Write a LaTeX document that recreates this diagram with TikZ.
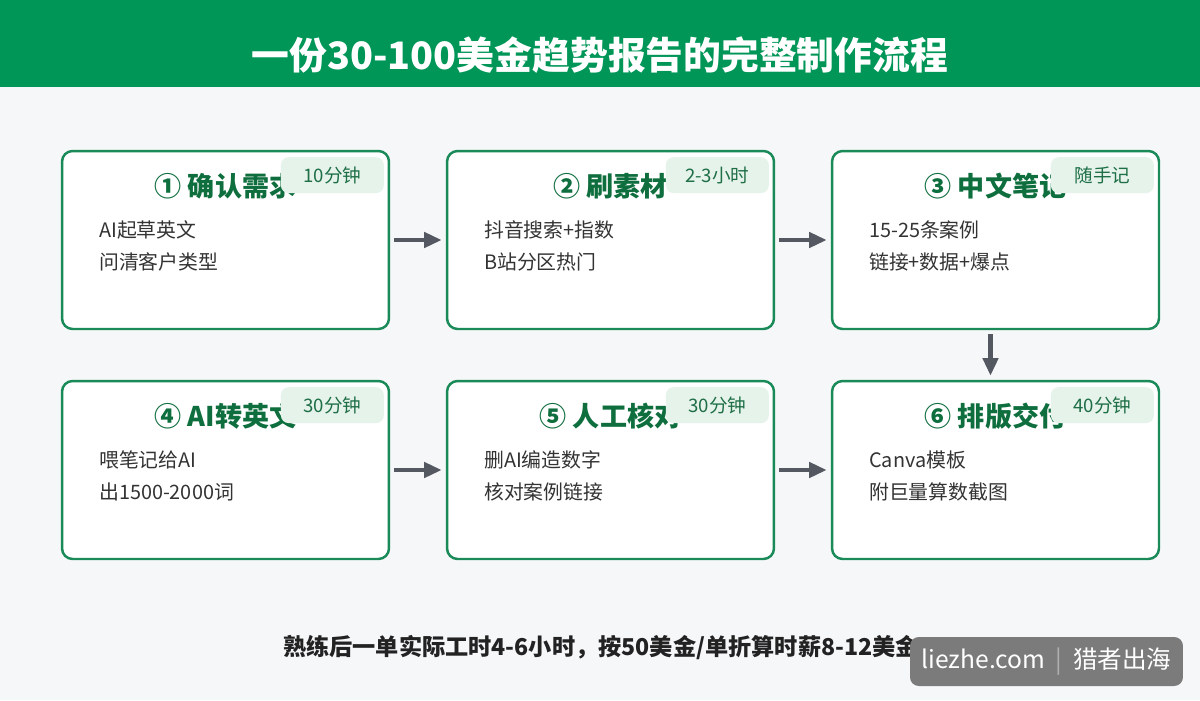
\documentclass[tikz,border=0pt]{standalone}
\usepackage{fontspec}
\setmainfont{Noto Sans CJK SC}
\usepackage{xcolor}
\definecolor{HeadGreen}{RGB}{0,150,88}
\definecolor{BoxGreen}{RGB}{26,138,88}
\definecolor{TitleGreen}{RGB}{14,110,62}
\definecolor{BadgeFill}{RGB}{230,243,235}
\definecolor{BadgeText}{RGB}{30,110,70}
\definecolor{ArrowGray}{RGB}{84,88,97}
\definecolor{PageGray}{RGB}{245,247,249}
\definecolor{BodyText}{RGB}{51,51,51}
\definecolor{FootText}{RGB}{34,34,34}
\definecolor{WmGray}{RGB}{123,123,123}
\definecolor{WmSep}{RGB}{176,176,176}
\usepackage{tikz}
\usetikzlibrary{arrows.meta, positioning, calc}
\tikzset{
  % Step card
  card/.style={
    rectangle, rounded corners=6pt,
    draw=BoxGreen, line width=1.4pt,
    fill=white,
    minimum width=6.54cm, minimum height=3.56cm,
    inner sep=0pt
  },
  % Card heading
  cardtitle/.style={
    font=\fontsize{15.4}{18}\selectfont\bfseries,
    text=TitleGreen, inner sep=0pt
  },
  % Time badge
  badge/.style={
    rectangle, rounded corners=4.5pt,
    fill=BadgeFill,
    minimum width=2.06cm, minimum height=0.72cm,
    font=\fontsize{10.6}{12}\selectfont,
    text=BadgeText, inner sep=0pt
  },
  % Card body
  cardbody/.style={
    align=left, inner sep=0pt,
    font=\fontsize{11.3}{18.1}\selectfont,
    text=BodyText
  },
  % Arrows
  flowarr/.style={-{Triangle[length=10pt,width=8.5pt]}, line width=2.7pt,
    ArrowGray, shorten <=2.3pt, shorten >=2.3pt},
}
\begin{document}
\begin{tikzpicture}[x=0.02cm, y=-0.02cm]
  %% Page and header band
  \useasboundingbox (0,0) rectangle (1200,700);
  \fill[PageGray] (0,0) rectangle (1200,700);
  \fill[HeadGreen] (0,0) rectangle (1200,87);
  \node[font=\fontsize{21.5}{24}\selectfont\bfseries, text=white] (head) at (600,55)
    {一份30-100美金趋势报告的完整制作流程};

  %% Six step cards
  \foreach \i/\cx/\cy/\ttl/\tm/\la/\lb in {
    1/225.5/240/{① 确认需求}/{10分钟}/{AI起草英文}/{问清客户类型},
    2/610.5/240/{② 刷素材}/{2-3小时}/{抖音搜索+指数}/{B站分区热门},
    3/995.5/240/{③ 中文笔记}/{随手记}/{15-25条案例}/{链接+数据+爆点},
    4/225.5/470/{④ AI转英文}/{30分钟}/{喂笔记给AI}/{出1500-2000词},
    5/610.5/470/{⑤ 人工核对}/{30分钟}/{删AI编造数字}/{核对案例链接},
    6/995.5/470/{⑥ 排版交付}/{40分钟}/{Canva模板}/{附巨量算数截图}}{
    \node[card] (s\i) at (\cx,\cy) {};
    \node[cardtitle] (t\i) at ($(s\i.north)+(0,36)$) {\ttl};
    \node[badge, anchor=north east] (b\i) at ($(s\i.north east)+(-6,7)$) {\tm};
    \node[cardbody, anchor=west] (d\i) at ($(s\i.west)+(38,6)$) {\la\\\lb};
  }

  %% Flow
  \draw[flowarr] (s1) -- (s2);
  \draw[flowarr] (s2) -- (s3);
  \draw[flowarr] ([xshift=-0.1cm]s3.south) -- ([xshift=-0.1cm]s6.north);
  \draw[flowarr] (s4) -- (s5);
  \draw[flowarr] (s5) -- (s6);

  %% Footer note and watermark
  \node[font=\fontsize{13.2}{15}\selectfont\bfseries, text=FootText] (note) at (601,648)
    {熟练后一单实际工时4-6小时，按50美金/单折算时薪8-12美金};
  \node[rectangle, rounded corners=5pt, fill=WmGray, text=white,
    minimum width=5.46cm, minimum height=0.98cm, inner sep=0pt,
    font=\fontsize{14}{16}\selectfont] (wm) at (1046.5,661.5)
    {liezhe.com\hspace{6pt}{\color{WmSep}|}\hspace{6pt}猎者出海};
\end{tikzpicture}
\end{document}
